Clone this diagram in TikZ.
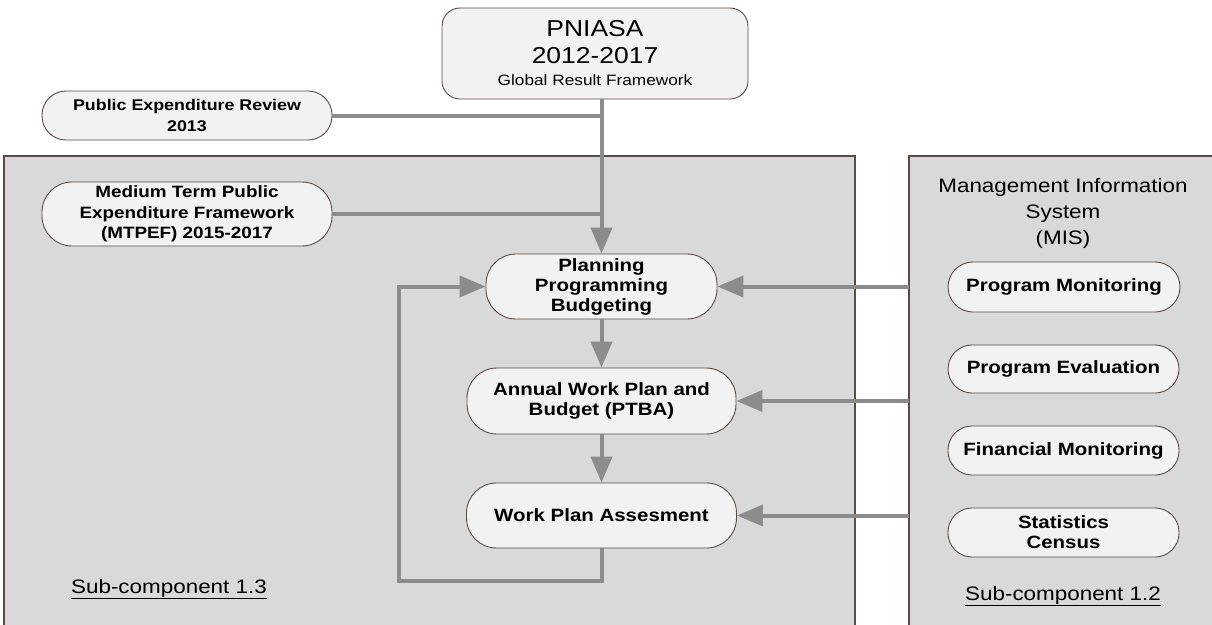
\documentclass[tikz,border=0pt]{standalone}
\usepackage{fontspec}
\setmainfont[FakeStretch=1.15]{Liberation Sans}
\usetikzlibrary{arrows.meta}
\definecolor{panelfill}{HTML}{D9D9D9}
\definecolor{boxfill}{HTML}{F2F2F2}
\definecolor{edge}{HTML}{5E4C44}
\definecolor{flow}{HTML}{8C8C8C}
\tikzset{
  pill/.style={draw=edge, line width=0.9pt, fill=boxfill, inner sep=0pt,
    align=center, font=\fontsize{17.8}{20.5}\selectfont\bfseries},
  panel/.style={draw=edge, line width=1.5pt, fill=panelfill},
  conn/.style={draw=flow, line width=4pt},
  arr/.style={conn, -{Triangle[length=26pt, width=21pt]}},
  plain/.style={inner sep=0pt, align=center, font=\fontsize{19.5}{26}\selectfont}
}
\begin{document}
\begin{tikzpicture}[x=1pt, y=-1pt]
\useasboundingbox (0,0) rectangle (1212,624);
\clip (0,0) rectangle (1212,624);
\fill[white] (0,0) rectangle (1212,624);

% the two sub-component panels (they run past the lower edge)
\draw[panel] (4,156) rectangle (855,660);
\draw[panel] (909,156) rectangle (1240,660);
\coordinate (misw) at (909,0);

% top framework box
\node[pill, font=\fontsize{23}{27}\selectfont, minimum width=306pt, minimum height=91pt,
  rounded corners=18pt] (pniasa) at (595,53.5)
  {PNIASA\\2012-2017\\[-5pt]{\fontsize{15}{18}\selectfont Global Result Framework}};

% inputs on the left
\node[pill, font=\fontsize{15.5}{20.5}\selectfont\bfseries, minimum width=290pt,
  minimum height=49pt, rounded corners=24pt] (per)
  at (187,115.5) {Public Expenditure Review\\2013};
\node[pill, font=\fontsize{16.4}{20.5}\selectfont\bfseries, minimum width=290pt,
  minimum height=64pt, rounded corners=30pt] (mtpef)
  at (187,214) {Medium Term Public\\Expenditure Framework\\(MTPEF) 2015-2017};

% planning cycle
\node[pill, font=\fontsize{17.8}{20}\selectfont\bfseries, minimum width=231pt,
  minimum height=65pt, rounded corners=30pt] (plan)
  at (601.5,286.5) {Planning\\Programming\\Budgeting};
\node[pill, minimum width=269pt, minimum height=66pt, rounded corners=30pt] (awp)
  at (601.5,401) {Annual Work Plan and\\Budget (PTBA)};
\node[pill, minimum width=270pt, minimum height=65pt, rounded corners=30pt] (wpa)
  at (601.5,515.5) {Work Plan Assesment};
\coordinate (loop) at (399,581);

% management information system
\node[plain] (mis) at (1063,213) {Management Information\\System\\(MIS)};
\node[pill, minimum width=232pt, minimum height=50pt, rounded corners=25pt] (pm)
  at (1064,287) {Program Monitoring};
\node[pill, minimum width=231pt, minimum height=48pt, rounded corners=24pt] (pe)
  at (1063.5,369) {Program Evaluation};
\node[pill, minimum width=231pt, minimum height=49pt, rounded corners=24pt] (fm)
  at (1063.5,450.5) {Financial Monitoring};
\node[pill, font=\fontsize{17.8}{20}\selectfont\bfseries, minimum width=231pt,
  minimum height=49pt, rounded corners=24pt] (sc)
  at (1063.5,532.5) {Statistics\\Census};

% panel captions
\node[plain, anchor=base] (sub13) at (169,593) {\underline{Sub-component 1.3}};
\node[plain, anchor=base] (sub12) at (1063,600) {\underline{Sub-component 1.2}};

% connectors
\draw[arr] (pniasa.south -| plan.north) -- (plan.north);
\draw[conn] (per.east) -- (per.east -| plan.north);
\draw[conn] (mtpef.east) -- (mtpef.east -| plan.north);
\draw[arr] (plan.south) -- (awp.north);
\draw[arr] (awp.south) -- (wpa.north);
\draw[arr] (wpa.south) |- (loop) |- (plan.west);
\draw[arr] (plan.east -| misw) -- (plan.east);
\draw[arr] (awp.east -| misw) -- (awp.east);
\draw[arr] (wpa.east -| misw) -- (wpa.east);
\end{tikzpicture}
\end{document}
